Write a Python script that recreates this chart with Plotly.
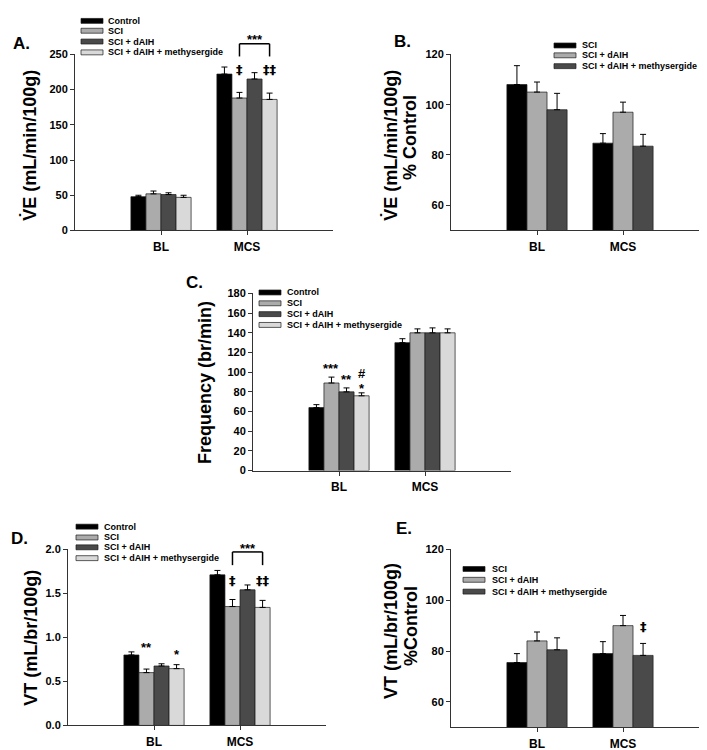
import plotly.graph_objects as go

W, H = 707, 750


def PX(p):
    return p / W


def PY(p):
    return 1 - p / H


# ---------------- data ----------------
groups = ["BL", "MCS"]

series4 = ["Control", "SCI", "SCI + dAIH", "SCI + dAIH + methysergide"]
series3 = ["SCI", "SCI + dAIH", "SCI + dAIH + methysergide"]

# A: VE (mL/min/100g)
a_values = [[48, 222], [52, 188], [51, 215], [47, 186]]
a_errors = [[2, 10], [4, 8], [2.5, 9], [3, 9]]

# B: VE % Control
b_values = [[108, 84.7], [105, 97], [98, 83.5]]
b_errors = [[7.5, 3.8], [4, 4], [6.5, 4.7]]

# C: Frequency (br/min)
c_values = [[64, 130], [89, 140], [80, 140], [76, 140]]
c_errors = [[3, 4], [6, 4], [4, 5], [3, 4]]

# D: VT (mL/br/100g)
d_values = [[0.80, 1.71], [0.60, 1.35], [0.675, 1.54], [0.645, 1.34]]
d_errors = [[0.035, 0.05], [0.04, 0.08], [0.025, 0.055], [0.045, 0.08]]

# E: VT % Control
e_values = [[75.5, 79], [84, 90], [80.5, 78.3]]
e_errors = [[3.5, 4.7], [3.5, 4], [4.7, 4.7]]

colors4 = ["#000000", "#ababab", "#4a4a4a", "#d9d9d9"]
colors3 = ["#000000", "#ababab", "#4a4a4a"]

# ---------------- panel layout (pixels) ----------------
panels = {
    "A": dict(ax="", x=(67, 325), y=(220, 41), rng=[0, 250], tickvals=[0, 50, 100, 150, 200, 250], fmt=None,
              values=a_values, errors=a_errors, names=series4, colors=colors4),
    "B": dict(ax="2", x=(443, 701), y=(220, 41), rng=[50, 120], tickvals=[60, 80, 100, 120], fmt=None,
              values=b_values, errors=b_errors, names=series3, colors=colors3),
    "C": dict(ax="3", x=(245, 503), y=(464, 284), rng=[0, 180], tickvals=list(range(0, 181, 20)), fmt=None,
              values=c_values, errors=c_errors, names=series4, colors=colors4),
    "D": dict(ax="4", x=(60, 318), y=(723, 544), rng=[0, 2.0], tickvals=[0, 0.5, 1.0, 1.5, 2.0], fmt=".1f",
              values=d_values, errors=d_errors, names=series4, colors=colors4),
    "E": dict(ax="5", x=(443, 701), y=(725, 544), rng=[50, 120], tickvals=[60, 80, 100, 120], fmt=None,
              values=e_values, errors=e_errors, names=series3, colors=colors3),
}


def ydata_to_paper(key, v):
    p = panels[key]
    d0, d1 = PY(p["y"][0]), PY(p["y"][1])
    r0, r1 = p["rng"]
    return d0 + (v - r0) / (r1 - r0) * (d1 - d0)


fig = go.Figure()

for key, p in panels.items():
    for name, vals, errs, col in zip(p["names"], p["values"], p["errors"], p["colors"]):
        fig.add_trace(go.Bar(
            x=groups, y=vals, name=name, showlegend=False,
            xaxis="x" + p["ax"], yaxis="y" + p["ax"],
            marker=dict(color=col, line=dict(color="#1a1a1a", width=0.7)),
            error_y=dict(type="data", array=errs, arrayminus=[0] * len(errs), symmetric=False,
                         color="#000000", thickness=1, width=3),
        ))

axis_col = "#333333"
layout = dict(
    width=W, height=H, margin=dict(l=0, r=0, t=0, b=0),
    paper_bgcolor="white", plot_bgcolor="white",
    barmode="group", bargap=0.3, bargroupgap=0,
    font=dict(family="Liberation Sans", color="#000000"),
    showlegend=False,
)
for key, p in panels.items():
    a = p["ax"]
    layout["xaxis" + a] = dict(
        domain=[PX(p["x"][0]), PX(p["x"][1])], anchor="y" + a, type="category",
        range=[-1, 2], showline=True, linecolor=axis_col, linewidth=1,
        ticks="outside", ticklen=4, tickcolor=axis_col, showgrid=False, zeroline=False,
        tickfont=dict(size=12, weight="bold", family="Liberation Sans"), ticklabelstandoff=1,
    )
    yd = dict(
        domain=[PY(p["y"][0]), PY(p["y"][1])], anchor="x" + a, range=p["rng"],
        showline=True, linecolor=axis_col, linewidth=1, ticks="outside", ticklen=4,
        tickcolor=axis_col, showgrid=False, zeroline=False, tickvals=p["tickvals"],
        tickfont=dict(size=11, weight="bold", family="Liberation Sans"),
    )
    if p["fmt"]:
        yd["tickformat"] = p["fmt"]
    layout["yaxis" + a] = yd

fig.update_layout(**layout)

ann = []
shapes = []


def text(x, y, s, size, angle=0, anchor="center", xref="paper", yref="paper", family="Liberation Sans"):
    ann.append(dict(x=x, y=y, xref=xref, yref=yref, text=s, showarrow=False,
                    xanchor=anchor, yanchor="middle", textangle=angle,
                    font=dict(size=size, weight="bold", family=family, color="#000000")))


# panel letters
text(PX(13), PY(30), "A.", 17)
text(PX(394), PY(28), "B.", 17)
text(PX(186), PY(273), "C.", 17)
text(PX(11), PY(533), "D.", 17)
text(PX(396), PY(523), "E.", 17)

# axis titles
text(PX(22), PY(134), "V\u0307E (mL/min/100g)", 18, -90)
text(PX(383), PY(134), "V\u0307E (mL/min/100g)", 18, -90)
text(PX(402), PY(126), "% Control", 18, -90)
text(PX(197), PY(375), "Frequency (br/min)", 18, -90)
text(PX(23), PY(634), "VT (mL/br/100g)", 18, -90)
text(PX(383), PY(627), "VT (mL/br/100g)", 18, -90)
text(PX(403), PY(622), "%Control", 18, -90)

# manual legends
legends = [
    (series4, colors4, 73, 98, [7, 17, 28, 39]),
    (series3, colors3, 546, 572, [32, 42, 53]),
    (series4, colors4, 251, 277, [283, 294, 305, 316]),
    (series4, colors4, 68, 94, [521, 532, 542, 553]),
    (series3, colors3, 455, 482, [564, 575, 587]),
]
for names, cols, sx, tx, rows in legends:
    for name, col, ry in zip(names, cols, rows):
        shapes.append(dict(type="rect", xref="paper", yref="paper",
                           x0=PX(sx), x1=PX(sx + 22), y0=PY(ry + 2.5), y1=PY(ry - 2.5),
                           fillcolor=col, line=dict(color="#1a1a1a", width=0.7)))
        text(PX(tx), PY(ry), name, 9, anchor="left")

# significance marks (group of 4 bars: centers at +/-0.0875, +/-0.2625; group of 3: 0, +/-0.2333)
off4 = [-0.2625, -0.0875, 0.0875, 0.2625]
off3 = [-0.2333, 0.0, 0.2333]


def mark(key, xpos, v, s, size=13, family="Liberation Sans"):
    a = panels[key]["ax"]
    text(xpos, ydata_to_paper(key, v), s, size, xref="x" + a, family=family)


def dagger(key, xpos, v, s):
    mark(key, xpos, v, s, size=13, family="DejaVu Sans")


def bracket(key, x0, x1, ytop, ylow):
    a = panels[key]["ax"]
    yt, yl = ydata_to_paper(key, ytop), ydata_to_paper(key, ylow)
    for (xa, ya, xb, yb) in [(x0, yt, x1, yt), (x0, yt, x0, yl), (x1, yt, x1, yl)]:
        shapes.append(dict(type="line", xref="x" + a, yref="paper", x0=xa, x1=xb, y0=ya, y1=yb,
                           line=dict(color="#000000", width=1.5)))


# A
bracket("A", 1 + off4[1], 1 + off4[3], 265, 247)
mark("A", 1 + (off4[1] + off4[3]) / 2, 271, "***")
dagger("A", 1 + off4[1], 228, "\u2021")
dagger("A", 1 + off4[3], 228, "\u2021\u2021")

# C
mark("C", off4[1], 104, "***")
mark("C", off4[2], 93, "**")
mark("C", off4[3], 99, "#")
mark("C", off4[3], 83, "*")

# D
mark("D", off4[1], 0.89, "**")
mark("D", off4[3], 0.81, "*")
dagger("D", 1 + off4[1], 1.65, "\u2021")
dagger("D", 1 + off4[3], 1.65, "\u2021\u2021")
bracket("D", 1 + off4[1], 1 + off4[3], 1.97, 1.82)
mark("D", 1 + (off4[1] + off4[3]) / 2, 2.01, "***")

# E
dagger("E", 1 + off3[2], 89.6, "\u2021")

fig.update_layout(annotations=ann, shapes=shapes)
fig.write_html("out.html")
